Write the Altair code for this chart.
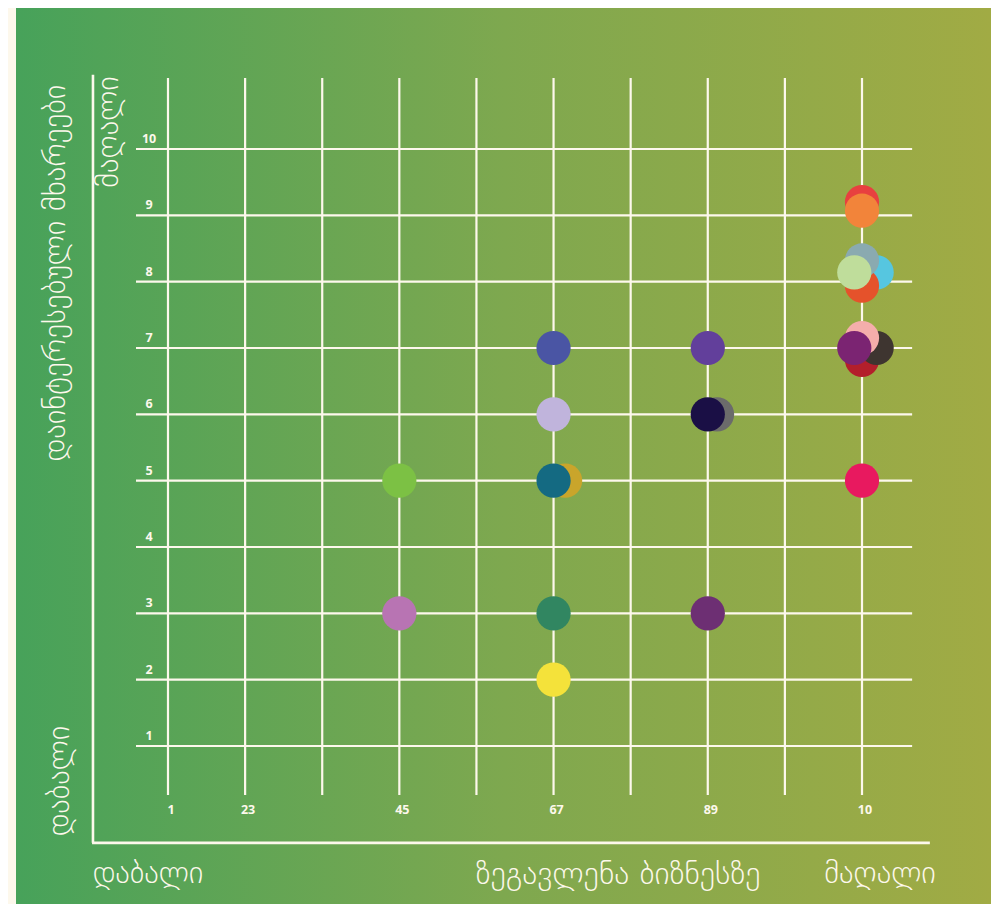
import altair as alt
import pandas as pd

# ---- data ----
impact = [10, 10, 10.19, 10, 10, 9.9, 10, 10.19, 10, 9.9, 10,
          6, 6, 6.15, 6, 6, 6,
          8, 8.12, 8, 8,
          4, 4]
interest = [9.2, 9.07, 8.14, 7.94, 8.32, 8.14, 6.82, 7.0, 7.15, 7.0, 5,
            7, 6, 5, 5, 3, 2,
            7, 6, 6, 3,
            5, 3]
colors = ["#e8403f", "#f2843a", "#56c6e0", "#e5522b", "#8aaab0", "#bfdd9b",
          "#b31f2b", "#3e3530", "#f5aeab", "#7b2472", "#e8195f",
          "#4a55a4", "#c0b4dc", "#c9a52b", "#146a82", "#318661", "#f4e23a",
          "#623f9b", "#6b6b6b", "#1a0f45", "#6d2f73",
          "#7cc144", "#b874b3"]

y_ticks = [1, 2, 3, 4, 5, 6, 7, 8, 9, 10]
x_grid = [1, 2, 3, 4, 5, 6, 7, 8, 9, 10]
x_tick_pos = [1, 2, 4, 6, 8, 10]
x_tick_text = ["1", "23", "45", "67", "89", "10"]

y_title = "დაინტერესებული მხარეები"
x_title = "ზეგავლენა ბიზნესზე"
low = "დაბალი"
high = "მაღალი"

# ---- geometry ----
SW, SH = 983, 896
W, H = 694, 597
PL, PT = 160, 141
PR = SW - PL - W
PB = SH - PT - H
CREAM = "#fdf8ec"
FONT_G = "DejaVu Sans"

xs = alt.Scale(domain=[1, 10], nice=False, zero=False)
ys = alt.Scale(domain=[1, 10], nice=False, zero=False)

pts = pd.DataFrame({"impact": impact, "interest": interest, "color": colors,
                    "order": list(range(len(impact)))})

bg = alt.Chart(alt.Data(values=[{}])).mark_rect(
    fill=alt.Gradient(gradient="linear",
                      stops=[alt.GradientStop(color="#47a25a", offset=0),
                             alt.GradientStop(color="#7ea84f", offset=0.5),
                             alt.GradientStop(color="#a1ab44", offset=1)],
                      x1=0, x2=1, y1=0, y2=0)
).encode(x=alt.value(16 - 8 - PL), x2=alt.value(SW - PL),
         y=alt.value(-PT), y2=alt.value(SH - PT))

vgrid = alt.Chart(pd.DataFrame({"x": x_grid, "y0": [0.26] * 10, "y1": [11.07] * 10})).mark_rule(
    color=CREAM, strokeWidth=2.2
).encode(x=alt.X("x:Q", scale=xs, axis=None), y=alt.Y("y0:Q", scale=ys, axis=None), y2="y1:Q")

hgrid = alt.Chart(pd.DataFrame({"y": y_ticks, "x0": [0.585] * 10, "x1": [10.65] * 10})).mark_rule(
    color=CREAM, strokeWidth=2.2
).encode(y=alt.Y("y:Q", scale=ys, axis=None), x=alt.X("x0:Q", scale=xs, axis=None), x2="x1:Q")

frame_v = alt.Chart(pd.DataFrame({"x": [0.027], "y0": [-0.46], "y1": [11.12]})).mark_rule(
    color=CREAM, strokeWidth=2.6
).encode(x=alt.X("x:Q", scale=xs, axis=None), y=alt.Y("y0:Q", scale=ys, axis=None), y2="y1:Q")

frame_h = alt.Chart(pd.DataFrame({"y": [-0.46], "x0": [0.015], "x1": [10.88]})).mark_rule(
    color=CREAM, strokeWidth=2.6
).encode(y=alt.Y("y:Q", scale=ys, axis=None), x=alt.X("x0:Q", scale=xs, axis=None), x2="x1:Q")

ylab = alt.Chart(pd.DataFrame({"y": y_ticks, "t": [str(v) for v in y_ticks], "x": [0.755] * 10})).mark_text(
    color=CREAM, font="Open Sans", fontWeight="bold", fontSize=12.5, align="center",
    baseline="bottom", dy=-3
).encode(x=alt.X("x:Q", scale=xs, axis=None), y=alt.Y("y:Q", scale=ys, axis=None), text="t:N")

xlab = alt.Chart(pd.DataFrame({"x": x_tick_pos, "t": x_tick_text, "y": [0.035] * 6})).mark_text(
    color=CREAM, font="Open Sans", fontWeight="bold", fontSize=12.5, align="center",
    baseline="middle", dx=3
).encode(x=alt.X("x:Q", scale=xs, axis=None), y=alt.Y("y:Q", scale=ys, axis=None), text="t:N")

points = alt.Chart(pts).mark_circle(size=1170, opacity=1).encode(
    x=alt.X("impact:Q", scale=xs, axis=None),
    y=alt.Y("interest:Q", scale=ys, axis=None),
    color=alt.Color("color:N", scale=None),
    order="order:Q",
)

def label(text, px, py, angle=0, size=31):
    return alt.Chart(alt.Data(values=[{"t": text}])).mark_text(
        color=CREAM, font=FONT_G, fontSize=size, fontWeight=300,
        align="center", baseline="middle", angle=angle
    ).encode(x=alt.value(px - 8 - PL), y=alt.value(py - 8 - PT), text="t:N")

titles = [
    label(y_title, 56, 273, angle=270),
    label(high, 109, 132, angle=270),
    label(low, 60, 781, angle=270),
    label(low, 148, 874),
    label(x_title, 618, 874, size=32),
    label(high, 880, 874),
]

chart = alt.layer(bg, vgrid, hgrid, frame_v, frame_h, ylab, xlab, points, *titles).properties(
    width=W, height=H,
    autosize=alt.AutoSizeParams(type="none"),
    padding={"left": PL, "top": PT, "right": PR, "bottom": PB},
    background=CREAM,
).configure_view(stroke=None)

chart.save("out.html", embed_options={"renderer": "svg", "actions": False})
